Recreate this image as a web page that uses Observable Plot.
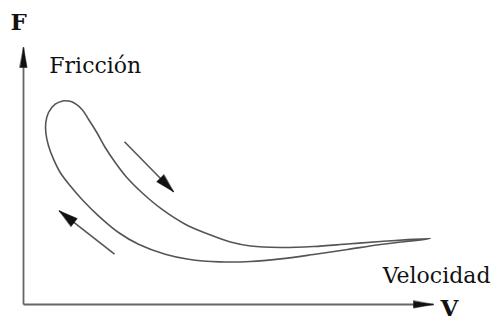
<!DOCTYPE html>
<html>
<head>
<meta charset="utf-8">
<script src="https://cdn.jsdelivr.net/npm/d3@7"></script>
<script src="https://cdn.jsdelivr.net/npm/@observablehq/plot@0.6"></script>
<style>
  html, body { margin: 0; padding: 0; background: #fff; }
  #chart svg { display: block; }
</style>
</head>
<body>
<div id="chart"></div>
<script>
// Friction–velocity hysteresis loop (arbitrary units 0–10)
// upper branch (velocity increasing), then lower branch back (velocity decreasing)
const loopVelocity = [0.976, 1.178, 1.422, 1.585, 1.788, 1.993, 2.237, 2.520, 2.885, 3.373, 3.944, 4.512, 5.049, 5.537,
                      6.268, 7.073, 7.902, 8.707, 9.927,
                      8.707, 7.902, 7.073, 6.268, 5.537, 4.780, 4.024, 3.456, 2.805, 2.317, 1.829, 1.422,
                      1.139, 0.895, 0.732, 0.610, 0.544, 0.544, 0.610, 0.773, 0.976];
const loopFriction = [7.926, 7.887, 7.599, 7.210, 6.693, 6.109, 5.525, 4.942, 4.358, 3.708, 3.125, 2.735, 2.432, 2.276,
                      2.218, 2.257, 2.354, 2.451, 2.568,
                      2.335, 2.140, 1.946, 1.775, 1.672, 1.660, 1.763, 1.957, 2.346, 2.802, 3.451, 4.097,
                      4.619, 5.136, 5.654, 6.175, 6.693, 7.082, 7.471, 7.794, 7.926];

// axes (drawn as arrows)
const axisFrom = [[0, 0], [0, 0]];
const axisTo = [[10, 0], [0, 10]];

// direction arrows along the loop
const dirFrom = [[2.463, 6.331], [2.220, 1.957]];
const dirTo = [[3.659, 4.385], [0.871, 3.646]];

// labels
const labelText = ["F", "Fricción", "Velocidad", "V"];
const labelV = [-0.32, 0.63, 8.76, 10.17];
const labelF = [10.70, 8.99, 0.82, -0.43];
const labelBold = [true, false, false, true];

const W = 494, H = 320;
const mL = 23, mR = 61, mT = 47, mB = 16;
const kx = (W - mL - mR) / 10, ky = (H - mT - mB) / 10;

const loop = loopVelocity.map((v, i) => ({v, f: loopFriction[i]}));
const toSeg = (from, to) => from.map((a, i) => ({x1: a[0], y1: a[1], x2: to[i][0], y2: to[i][1],
  rot: Math.atan2((to[i][0] - a[0]) * kx, (to[i][1] - a[1]) * ky) * 180 / Math.PI}));
const axes = toSeg(axisFrom, axisTo);
const dirs = toSeg(dirFrom, dirTo);
const labels = labelText.map((t, i) => ({t, v: labelV[i], f: labelF[i], bold: labelBold[i]}));

const head = {draw(ctx, l, r) { ctx.moveTo(0, -l); ctx.lineTo(r, 0); ctx.lineTo(-r, 0); ctx.closePath(); }};

const font = "'DejaVu Serif', serif";

const chart = Plot.plot({
  width: W, height: H,
  marginLeft: mL, marginRight: mR, marginTop: mT, marginBottom: mB,
  x: {domain: [0, 10], axis: null},
  y: {domain: [0, 10], axis: null},
  style: {background: "#fff", fontFamily: font},
  marks: [
    Plot.link(axes, {x1: "x1", y1: "y1", x2: "x2", y2: "y2", stroke: "#666", strokeWidth: 1.8}),
    Plot.vector(axes, {x: "x2", y: "y2", rotate: "rot", length: 20, r: 3.6, shape: head, anchor: "end",
      fill: "#111", stroke: "#111", strokeWidth: 0.5}),
    Plot.line(loop, {x: "v", y: "f", curve: "catmull-rom", stroke: "#555", strokeWidth: 1.6}),
    Plot.link(dirs, {x1: "x1", y1: "y1", x2: "x2", y2: "y2", stroke: "#555", strokeWidth: 1.6}),
    Plot.vector(dirs, {x: "x2", y: "y2", rotate: "rot", length: 19, r: 5, shape: head, anchor: "end",
      fill: "#111", stroke: "#111", strokeWidth: 0.5}),
    Plot.text(labels.filter(d => !d.bold), {x: "v", y: "f", text: "t", textAnchor: "start", lineAnchor: "bottom",
      fontSize: 22, fill: "#111", fontFamily: font}),
    Plot.text(labels.filter(d => d.bold), {x: "v", y: "f", text: "t", textAnchor: "start", lineAnchor: "bottom",
      fontSize: 23, fontWeight: "bold", fill: "#111", fontFamily: font})
  ]
});
document.getElementById("chart").appendChild(chart);
</script>
</body>
</html>
